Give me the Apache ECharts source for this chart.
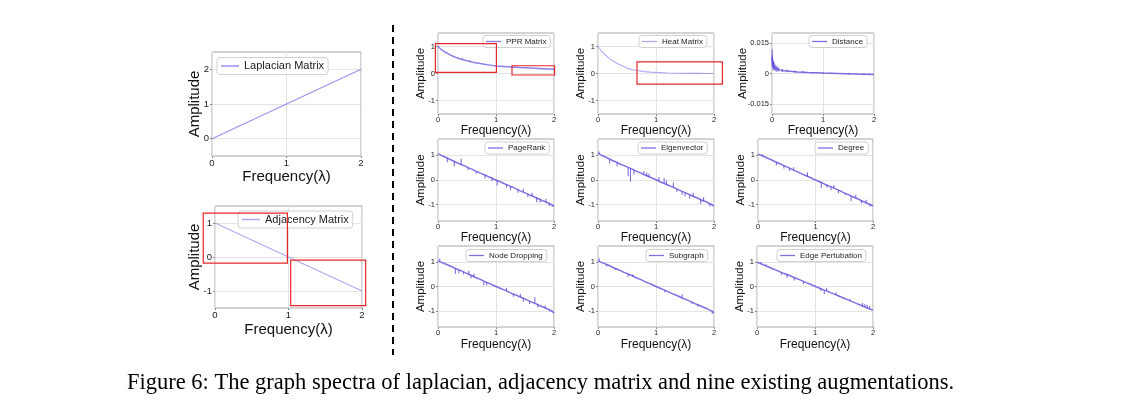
<!DOCTYPE html>
<html>
<head>
<meta charset="utf-8">
<script src="https://cdn.jsdelivr.net/npm/echarts@6/dist/echarts.min.js"></script>
<style>
html,body{margin:0;padding:0;background:#fff;}
#c{width:1147px;height:409px;}
</style>
</head>
<body>
<div id="c"></div>
<script>
// ---------------- data ----------------
const lapX = [0, 2];
const lapY = [0, 2];
const adjX = [0, 2];
const adjY = [1, -1];

const pprX = [0,0.05,0.1,0.15,0.2,0.25,0.3,0.4,0.5,0.6,0.7,0.8,0.9,1.0,1.2,1.4,1.6,1.8,2.0];
const pprY = [1.0,0.9,0.82,0.76,0.7,0.65,0.6,0.53,0.47,0.42,0.38,0.34,0.31,0.28,0.25,0.22,0.2,0.18,0.16];
const pprSpikes = [[0.42,0.52,0.58],[0.55,0.45,0.5],[1.5,0.21,0.24]];

const heatX = [0,0.05,0.1,0.15,0.2,0.25,0.3,0.4,0.5,0.6,0.7,0.8,0.9,1.0,1.2,1.4,1.6,1.8,2.0];
const heatY = [1.0,0.86,0.74,0.64,0.55,0.47,0.41,0.3,0.2,0.14,0.1,0.07,0.05,0.04,0.02,0.01,0.005,0.003,0.002];

const distX = [0,0.01,0.02,0.03,0.05,0.08,0.1,0.15,0.2,0.3,0.4,0.5,0.7,1.0,1.3,1.6,2.0];
const distY = [0.008,0.005,0.004,0.0035,0.003,0.0025,0.0022,0.0018,0.0015,0.0012,0.001,0.0008,0.0005,0.0002,0.0,-0.0002,-0.0005];
const distSpikes = [[0.003,0.004,0.012],[0.01,0.003,0.009],[0.02,0.002,0.007],[0.03,0.002,0.006],[0.04,0.0015,0.0055],
                    [0.06,0.0015,0.0045],[0.08,0.001,0.004],[0.1,0.001,0.0035],[0.13,0.001,0.003],[0.2,0.0008,0.0022],
                    [0.3,0.0006,0.0018],[0.45,0.0005,0.0015],[0.6,0.0003,0.0012],[0.8,0.0001,0.0008],[1.0,-0.0001,0.0005],
                    [1.2,-0.0002,0.0003],[1.5,-0.0004,0.0002],[1.8,-0.0006,0.0001],[1.9,-0.0007,0.0]];

const freq = [0,0.04,0.08,0.12,0.16,0.2,0.24,0.28,0.32,0.36,
              0.4,0.44,0.48,0.52,0.56,0.6,0.64,0.68,0.72,0.76,
              0.8,0.84,0.88,0.92,0.96,1.0,1.04,1.08,1.12,1.16,
              1.2,1.24,1.28,1.32,1.36,1.4,1.44,1.48,1.52,1.56,
              1.6,1.64,1.68,1.72,1.76,1.8,1.84,1.88,1.92,1.96,2.0];

const pageRankY = [1.06,1.02,0.97,0.93,0.89,0.84,0.80,0.75,0.71,0.67,
                   0.63,0.59,0.55,0.50,0.46,0.42,0.37,0.34,0.29,0.25,
                   0.21,0.17,0.12,0.09,0.04,0.00,-0.04,-0.08,-0.12,-0.17,
                   -0.20,-0.25,-0.28,-0.33,-0.37,-0.42,-0.46,-0.50,-0.54,-0.58,
                   -0.63,-0.66,-0.71,-0.75,-0.78,-0.84,-0.87,-0.91,-0.95,-1.00,-1.06];
const pageRankSpikes = [[0.16,0.88,0.72],[0.28,0.75,0.55],[0.40,0.63,0.86],[0.52,0.5,0.4],[0.66,0.36,0.25],
                        [0.81,0.2,0.06],[0.93,0.08,-0.05],[1.02,-0.02,-0.22],[1.18,-0.19,-0.3],[1.25,-0.26,-0.42],
                        [1.38,-0.4,-0.52],[1.47,-0.49,-0.34],[1.55,-0.57,-0.7],[1.62,-0.64,-0.52],[1.70,-0.7,-0.9],
                        [1.76,-0.77,-0.92],[1.86,-0.89,-0.76],[1.92,-0.95,-1.05],[1.97,-1.01,-1.08]];

const eigenY = [1.08,1.03,0.98,0.94,0.89,0.85,0.80,0.76,0.72,0.67,
                0.63,0.59,0.55,0.51,0.47,0.43,0.38,0.34,0.30,0.26,
                0.21,0.17,0.13,0.09,0.05,0.01,-0.03,-0.08,-0.12,-0.16,
                -0.20,-0.24,-0.28,-0.32,-0.36,-0.41,-0.45,-0.49,-0.53,-0.57,
                -0.62,-0.66,-0.70,-0.74,-0.78,-0.83,-0.86,-0.90,-0.95,-0.99,-1.06];
const eigenSpikes = [[0.02,1.06,1.15],[0.2,0.84,0.68],[0.33,0.7,0.56],[0.52,0.5,0.15],[0.56,0.47,-0.07],
                     [0.62,0.4,0.22],[0.79,0.22,0.36],[0.84,0.17,0.3],[0.88,0.13,0.26],[1.05,-0.04,0.12],
                     [1.14,-0.14,0.08],[1.18,-0.17,-0.02],[1.3,-0.3,-0.1],[1.36,-0.36,-0.48],[1.45,-0.46,-0.6],
                     [1.5,-0.51,-0.66],[1.58,-0.6,-0.75],[1.64,-0.66,-0.52],[1.77,-0.79,-0.96],[1.82,-0.84,-0.7],
                     [1.93,-0.96,-1.07]];

const degreeY = [1.05,1.01,0.97,0.93,0.89,0.85,0.81,0.76,0.72,0.68,
                 0.64,0.59,0.55,0.51,0.47,0.42,0.38,0.34,0.30,0.25,
                 0.21,0.17,0.13,0.09,0.04,0.00,-0.04,-0.08,-0.12,-0.17,
                 -0.21,-0.25,-0.29,-0.33,-0.37,-0.41,-0.45,-0.50,-0.54,-0.58,
                 -0.62,-0.67,-0.71,-0.75,-0.79,-0.84,-0.88,-0.92,-0.96,-1.00,-1.04];
const degreeSpikes = [[0.08,0.97,1.04],[0.32,0.72,0.6],[0.45,0.58,0.47],[0.55,0.47,0.36],[0.62,0.4,0.52],
                      [0.86,0.15,0.31],[1.1,-0.1,-0.32],[1.2,-0.2,-0.3],[1.27,-0.27,-0.42],[1.32,-0.33,-0.2],
                      [1.4,-0.41,-0.53],[1.52,-0.54,-0.62],[1.62,-0.65,-0.86],[1.7,-0.72,-0.6],[1.8,-0.84,-0.95],
                      [1.88,-0.92,-0.8],[1.95,-0.98,-1.08]];

const nodeDropY = [1.05,1.01,0.97,0.93,0.89,0.85,0.81,0.76,0.72,0.68,
                   0.64,0.60,0.55,0.51,0.47,0.43,0.38,0.34,0.30,0.26,
                   0.21,0.17,0.13,0.09,0.04,0.00,-0.04,-0.08,-0.12,-0.16,
                   -0.20,-0.25,-0.29,-0.33,-0.37,-0.41,-0.45,-0.49,-0.54,-0.58,
                   -0.62,-0.66,-0.70,-0.74,-0.79,-0.83,-0.87,-0.91,-0.95,-1.00,-1.08];
const nodeDropSpikes = [[0.03,1.03,1.15],[0.3,0.73,0.52],[0.36,0.68,0.55],[0.44,0.6,0.5],[0.53,0.5,0.65],
                        [0.57,0.46,0.33],[0.62,0.41,0.52],[0.79,0.22,0.05],[0.84,0.16,0.04],[1.18,-0.18,-0.05],
                        [1.3,-0.31,-0.42],[1.42,-0.43,-0.3],[1.47,-0.48,-0.62],[1.58,-0.6,-0.72],[1.67,-0.69,-0.43],
                        [1.72,-0.74,-0.86],[1.85,-0.88,-0.78],[1.93,-0.96,-1.04]];

const subgraphY = [1.05,1.01,0.97,0.93,0.89,0.85,0.80,0.76,0.72,0.68,
                   0.64,0.59,0.55,0.51,0.47,0.43,0.38,0.34,0.30,0.26,
                   0.21,0.17,0.13,0.09,0.05,0.00,-0.04,-0.08,-0.12,-0.16,
                   -0.21,-0.25,-0.29,-0.33,-0.37,-0.41,-0.46,-0.50,-0.54,-0.58,
                   -0.62,-0.66,-0.71,-0.75,-0.79,-0.83,-0.87,-0.91,-0.96,-1.00,-1.07];
const subgraphSpikes = [[0.02,1.04,1.16],[0.15,0.9,0.82],[0.3,0.74,0.68],[0.52,0.5,0.4],[0.6,0.42,0.5],
                        [1.15,-0.15,-0.24],[1.45,-0.46,-0.32],[1.62,-0.64,-0.72],[1.72,-0.74,-0.82],[1.97,-1.02,-1.12]];

const edgeY = [1.00,0.96,0.92,0.88,0.84,0.80,0.76,0.72,0.68,0.64,
               0.60,0.56,0.52,0.48,0.45,0.41,0.37,0.33,0.29,0.25,
               0.21,0.17,0.13,0.09,0.05,0.01,-0.03,-0.07,-0.11,-0.15,
               -0.18,-0.22,-0.26,-0.30,-0.34,-0.38,-0.42,-0.46,-0.50,-0.54,
               -0.58,-0.62,-0.66,-0.70,-0.74,-0.78,-0.82,-0.86,-0.90,-0.93,-0.97];
const edgeSpikes = [[0.06,0.94,1.0],[0.16,0.84,0.9],[0.42,0.58,0.48],[0.52,0.52,0.36],[0.64,0.37,0.25],
                    [0.8,0.21,0.1],[1.1,-0.09,-0.17],[1.16,-0.15,-0.32],[1.2,-0.18,-0.05],[1.36,-0.34,-0.25],
                    [1.6,-0.58,-0.5],[1.82,-0.8,-0.68],[1.86,-0.84,-0.72],[1.9,-0.88,-0.75],[1.94,-0.91,-0.8]];

const xTicks = [0, 1, 2];
const lapTicks = [0, 1, 2];
const unitTicks = [-1, 0, 1];
const distTicks = [-0.015, 0, 0.015];

// annotation boxes in data coordinates [x1, y1, x2, y2]
const adjBoxes = [[-0.16, 1.29, 0.985, -0.18], [1.03, -0.09, 2.05, -1.43]];
const pprBoxes = [[-0.045, 1.11, 1.007, 0.044], [1.276, 0.287, 2.01, -0.055]];
const heatBoxes = [[0.672, 0.434, 2.145, -0.397]];

const caption = 'Figure 6: The graph spectra of laplacian, adjacency matrix and nine existing augmentations.';

// ---------------- layout ----------------
const SANS = 'Liberation Sans, Arial, sans-serif';
const DARK = 'rgba(95,75,220,0.8)';
const panels = [
  {name:'Laplacian Matrix', x:lapX, y:lapY, ymin:-0.5, ymax:2.5, yt:lapTicks, g:[212,52,149,104], big:true, ygap:10, xgap:13, lg:[217,57.5], color:'rgba(120,110,235,0.75)'},
  {name:'Adjacency Matrix', x:adjX, y:adjY, ymin:-1.5, ymax:1.5, yt:unitTicks, g:[215,206,147,102], big:true, ygap:13, xgap:14, lg:[238,211], color:'rgba(120,110,235,0.6)'},
  {name:'PPR Matrix', x:pprX, y:pprY, sp:pprSpikes, ymin:-1.5, ymax:1.5, yt:unitTicks, g:[438,33,116,81], ygap:11, xgap:10.5, lg:[483,35.5], color:'rgba(100,85,225,0.75)'},
  {name:'Heat Matrix', x:heatX, y:heatY, ymin:-1.5, ymax:1.5, yt:unitTicks, g:[598,33,116,81], ygap:11, xgap:10.5, lg:[639,35.5], color:'rgba(120,110,235,0.6)'},
  {name:'Distance', x:distX, y:distY, sp:distSpikes, ymin:-0.02, ymax:0.02, yt:distTicks, g:[772,33,102,81], ygap:23, xgap:10.5, lg:[809,35.5], color:DARK},
  {name:'PageRank', x:freq, y:pageRankY, sp:pageRankSpikes, ymin:-1.66, ymax:1.66, yt:unitTicks, g:[438,139,116,82], ygap:11, xgap:10.5, lg:[485,142], color:DARK},
  {name:'Eigenvector', x:freq, y:eigenY, sp:eigenSpikes, ymin:-1.66, ymax:1.66, yt:unitTicks, g:[598,139,116,82], ygap:11, xgap:10.5, lg:[638,142], color:DARK},
  {name:'Degree', x:freq, y:degreeY, sp:degreeSpikes, ymin:-1.66, ymax:1.66, yt:unitTicks, g:[758,139,115,82], ygap:11, xgap:10.5, lg:[815,142], color:DARK},
  {name:'Node Dropping', x:freq, y:nodeDropY, sp:nodeDropSpikes, ymin:-1.66, ymax:1.66, yt:unitTicks, g:[438,246,116,81], ygap:11, xgap:11.5, lg:[466,249.5], color:DARK},
  {name:'Subgraph', x:freq, y:subgraphY, sp:subgraphSpikes, ymin:-1.66, ymax:1.66, yt:unitTicks, g:[598,246,116,81], ygap:11, xgap:11.5, lg:[646,249.5], color:DARK},
  {name:'Edge Pertubation', x:freq, y:edgeY, sp:edgeSpikes, ymin:-1.66, ymax:1.66, yt:unitTicks, g:[757,246,116,81], ygap:11, xgap:11.5, lg:[777,249.5], color:DARK}
];

const grids = [], xAxes = [], yAxes = [], series = [], legends = [];
panels.forEach((p, i) => {
  const big = !!p.big;
  grids.push({left:p.g[0], top:p.g[1], width:p.g[2], height:p.g[3], show:true,
    borderColor:'#a8a8a8', borderWidth:1, backgroundColor:'#fff', containLabel:false});
  const tickLblSize = big ? 9.5 : 7.5;
  xAxes.push({type:'value', gridIndex:i, min:0, max:2,
    name:'Frequency(λ)', nameLocation:'middle', nameGap:p.xgap, nameMoveOverlap:false,
    nameTextStyle:{fontSize: big ? 15 : 12, color:'#111', fontFamily:SANS},
    axisLine:{show:false, onZero:false},
    axisTick:{show:true, customValues:xTicks, length:2, lineStyle:{color:'#888'}},
    axisLabel:{customValues:xTicks, fontSize:tickLblSize, color:'#222', margin:2, fontFamily:SANS},
    splitLine:{show:true, lineStyle:{color:'#e4e4e4', width:1}}
  });
  yAxes.push({type:'value', gridIndex:i, min:p.ymin, max:p.ymax,
    name:'Amplitude', nameLocation:'middle', nameGap:p.ygap, nameRotate:90, nameMoveOverlap:false,
    nameTextStyle:{fontSize: big ? 15 : 11.5, color:'#111', fontFamily:SANS},
    axisLine:{show:false, onZero:false},
    axisTick:{show:true, customValues:p.yt, length:2, lineStyle:{color:'#888'}},
    axisLabel:{customValues:p.yt, fontSize:tickLblSize, color:'#222', margin:3, fontFamily:SANS,
      formatter: v => (v === 0 ? '0' : String(v))},
    splitLine:{show:true, lineStyle:{color:'#e4e4e4', width:1}}
  });
  series.push({type:'line', name:p.name, xAxisIndex:i, yAxisIndex:i,
    data:p.x.map((xv, k) => [xv, p.y[k]]),
    showSymbol:false, symbol:'none', smooth:false, animation:false,
    lineStyle:{color:p.color, width: p.sp ? 1.5 : 1.1},
    itemStyle:{color:p.color}, z:3
  });
  if (p.sp) {
    const col = p.color;
    series.push({type:'custom', name:p.name + ' noise', xAxisIndex:i, yAxisIndex:i,
      data:p.sp, animation:false, z:3,
      renderItem:(params, api) => {
        const a = api.coord([api.value(0), api.value(1)]);
        const b = api.coord([api.value(0), api.value(2)]);
        return {type:'line', shape:{x1:a[0], y1:a[1], x2:b[0], y2:b[1]},
          style:{stroke:col, lineWidth:1.1}};
      }
    });
  }
  legends.push({data:[p.name], left:p.lg[0], top:p.lg[1],
    icon:'rect', itemWidth: big ? 18 : 15, itemHeight: big ? 1.5 : 1.3,
    backgroundColor:'#fff', borderColor:'#d0d0d0', borderWidth:1, borderRadius:3,
    padding: big ? [3,4,3,4] : [2,4,2,3],
    textStyle:{fontSize: big ? 11 : 8, color:'#222', fontFamily:SANS},
    selectedMode:false
  });
});

const chart = echarts.init(document.getElementById('c'), null, {renderer:'canvas'});
chart.setOption({
  animation:false,
  backgroundColor:'#fff',
  grid:grids, xAxis:xAxes, yAxis:yAxes, series:series, legend:legends
});

// annotation rectangles through the chart's own scales
const gfx = [];
function addBoxes(boxes, gi) {
  boxes.forEach(b => {
    const p1 = chart.convertToPixel({gridIndex:gi}, [b[0], b[1]]);
    const p2 = chart.convertToPixel({gridIndex:gi}, [b[2], b[3]]);
    gfx.push({type:'rect', shape:{x:Math.min(p1[0],p2[0]), y:Math.min(p1[1],p2[1]),
      width:Math.abs(p2[0]-p1[0]), height:Math.abs(p2[1]-p1[1])},
      style:{fill:'none', stroke:'#e8262a', lineWidth:1.2}, z:100});
  });
}
addBoxes(adjBoxes, 1);
addBoxes(pprBoxes, 2);
addBoxes(heatBoxes, 3);
gfx.push({type:'line', shape:{x1:393, y1:25, x2:393, y2:355},
  style:{stroke:'#000', lineWidth:2, lineDash:[7,5]}, z:100});
gfx.push({type:'text', left:127, top:372,
  style:{text:caption, font:'22.5px "Liberation Serif", "Times New Roman", serif', fill:'#000'}, z:100});
chart.setOption({graphic:gfx});
</script>
</body>
</html>
